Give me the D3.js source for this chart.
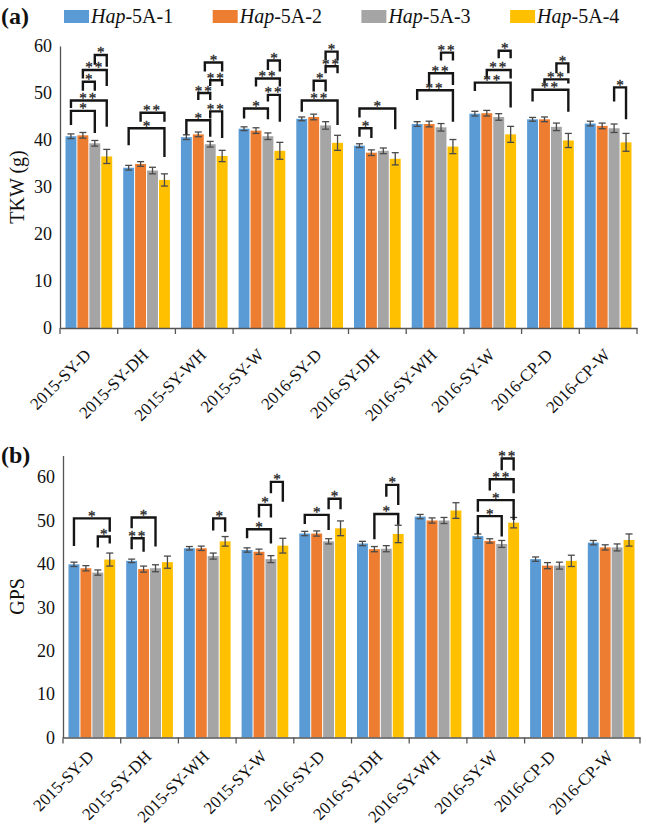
<!DOCTYPE html>
<html><head><meta charset="utf-8">
<script src="https://cdn.jsdelivr.net/npm/d3@7"></script>
<style>
body{margin:0;background:#fff}
svg{display:block}
text{font-family:"Liberation Serif","Times New Roman",Tinos,serif;fill:#111}
</style>
</head><body>
<svg id="chart" width="646" height="827"></svg>
<script>
// ---------- DATA ----------
const categories = ["2015-SY-D","2015-SY-DH","2015-SY-WH","2015-SY-W","2016-SY-D","2016-SY-DH","2016-SY-WH","2016-SY-W","2016-CP-D","2016-CP-W"];
const haplotypes = ["Hap-5A-1","Hap-5A-2","Hap-5A-3","Hap-5A-4"];
const colors = ["#5B9BD5","#ED7D31","#A5A5A5","#FFC000"];

// TKW (g) means and error bars
const tkwHap1 = [40.8,34.1,40.6,42.4,44.5,38.8,43.4,45.6,44.4,43.5];
const tkwHap2 = [41.0,34.9,41.2,42.0,44.9,37.3,43.4,45.7,44.4,43.0];
const tkwHap3 = [39.3,33.5,39.1,40.8,43.1,37.7,42.7,44.9,42.8,42.5];
const tkwHap4 = [36.5,31.5,36.6,37.7,39.4,36.0,38.6,41.2,39.9,39.5];
const tkwErr1 = [0.5,0.5,0.5,0.4,0.4,0.4,0.5,0.5,0.4,0.5];
const tkwErr2 = [0.6,0.5,0.5,0.6,0.6,0.6,0.6,0.6,0.5,0.6];
const tkwErr3 = [0.6,0.7,0.6,0.7,0.8,0.6,0.8,0.7,0.8,0.9];
const tkwErr4 = [1.5,1.3,1.2,1.8,1.6,1.3,1.5,1.7,1.5,1.9];

// GPS means and error bars
const gpsHap1 = [39.9,40.7,43.6,43.2,47.0,44.7,50.9,46.4,41.1,44.9];
const gpsHap2 = [39.0,38.8,43.6,42.8,47.0,43.4,50.0,45.3,39.6,43.8];
const gpsHap3 = [38.0,39.0,41.8,41.1,45.2,43.5,50.0,44.6,39.6,43.8];
const gpsHap4 = [41.0,40.4,45.2,44.2,48.2,46.9,52.3,49.5,40.7,45.5];
const gpsErr1 = [0.5,0.4,0.4,0.5,0.5,0.5,0.5,0.5,0.5,0.5];
const gpsErr2 = [0.6,0.7,0.5,0.6,0.6,0.6,0.6,0.5,0.7,0.6];
const gpsErr3 = [0.6,0.8,0.7,0.8,0.6,0.7,0.7,0.8,0.8,0.8];
const gpsErr4 = [1.5,1.4,1.1,1.7,1.7,2.0,1.8,1.2,1.3,1.4];

const tkwTicks = [0,10,20,30,40,50,60];
const gpsTicks = [0,10,20,30,40,50,60];

// significance brackets: [group, fromBar, toBar, topValue, leftLegEnd, rightLegEnd, label]
const tkwSig = [
  [0,0,2,46.2,43.2,41.5,"*"],[0,0,3,48.4,46.8,42.8,"**"],[0,1,2,52.4,50.5,50.5,"*"],[0,1,3,54.9,53.1,51.5,"**"],[0,2,3,58.1,56.0,55.6,"*"],
  [1,0,3,42.5,38.9,36.4,"*"],[1,1,3,45.8,43.9,43.9,"**"],
  [2,0,2,44.2,41.1,40.7,"*"],[2,2,3,46.1,44.6,40.4,"**"],[2,1,2,50.0,48.5,48.5,"**"],[2,2,3,52.7,51.5,51.5,"**"],[2,1.55,3,56.5,54.6,54.6,"*"],
  [3,0,2,46.7,44.6,44.4,"*"],[3,2,3,49.6,48.2,43.9,"**"],[3,1,3,53.1,51.4,51.4,"**"],[3,2,3,56.9,54.9,54.6,"*"],
  [4,0,3,48.4,46.0,43.2,"**"],[4,1,2,52.6,50.3,50.3,"*"],[4,2,3,55.7,54.2,54.2,"**"],[4,2,3,58.8,57.0,57.0,"*"],
  [5,0,1,42.5,40.7,40.4,"*"],[5,0,3,46.7,44.8,42.3,"*"],
  [6,0,3,50.6,48.5,43.9,"**"],[6,1,3,54.2,51.7,51.7,"**"],[6,2,3,58.6,56.9,56.9,"**"],
  [7,0,3,52.2,50.4,46.9,"**"],[7,1,3,54.9,53.1,53.1,"**"],[7,2,3,59.0,57.4,57.4,"*"],
  [8,0,3,50.7,48.2,46.0,"**"],[8,1,3,52.9,52.0,52.0,"**"],[8,2,3,56.3,54.2,54.2,"*"],
  [9,2,3,51.2,48.2,44.4,"*"]
];
const gpsSig = [
  [0,0,3,50.5,44.1,47.4,"*"],[0,2,3,46.3,43.8,44.7,"*"],
  [1,0,2,50.7,48.2,44.0,"*"],[1,0,1,45.9,43.4,42.8,"**"],
  [2,2,3,50.5,47.7,47.4,"*"],
  [3,0,2,48.0,45.9,44.7,"*"],[3,1,2,53.6,50.7,50.7,"*"],[3,2,3,58.9,56.3,54.3,"*"],
  [4,0,2,51.3,49.2,47.8,"*"],[4,2,3,55.0,52.6,52.6,"*"],
  [5,1,3,51.5,45.7,49.0,"*"],[5,2,3,58.2,55.5,53.6,"*"],
  [7,0,2,51.0,46.9,46.3,"*"],[7,0,3,54.7,52.0,50.1,"*"],[7,1,3,59.5,56.9,56.3,"**"],[7,2,3,64.3,61.6,61.5,"**"]
];

// ---------- DRAW ----------
const svg = d3.select("#chart");
const SERIF = '"Liberation Serif","Times New Roman",Tinos,serif';

function drawPanel(p){
  const g = svg.append("g");
  const x = d3.scaleBand().domain(categories).range([p.x0, p.x1]).paddingInner(0).paddingOuter(0);
  const sub = d3.scaleBand().domain([0,1,2,3]).range([5, x.bandwidth()-5]).paddingInner(0);
  const y = d3.scaleLinear().domain([0, p.yMax]).range([p.yBase, p.yTop]);
  const barX = (gi, bi) => x(categories[gi]) + sub(0) + (bi + 0.5) * sub.step();

  // bars
  p.series.forEach((vals, si) => {
    g.append("g").selectAll("rect").data(vals).join("rect")
      .attr("x", (d,i) => x(categories[i]) + sub(si) + 0.5)
      .attr("width", sub.bandwidth() - 1)
      .attr("y", d => y(d))
      .attr("height", d => y(0) - y(d))
      .attr("fill", colors[si]);
  });
  // error bars
  p.errs.forEach((errs, si) => {
    const vals = p.series[si];
    const eg = g.append("g").attr("stroke", "#4a4a4a").attr("stroke-width", 1.3).attr("fill","none");
    errs.forEach((e, i) => {
      const cx = barX(i, si);
      eg.append("line").attr("x1", cx).attr("x2", cx).attr("y1", y(vals[i]-e)).attr("y2", y(vals[i]+e));
      eg.append("line").attr("x1", cx-3.5).attr("x2", cx+3.5).attr("y1", y(vals[i]-e)).attr("y2", y(vals[i]-e));
      eg.append("line").attr("x1", cx-3.5).attr("x2", cx+3.5).attr("y1", y(vals[i]+e)).attr("y2", y(vals[i]+e));
    });
  });

  // y axis
  const ya = g.append("g").attr("transform", `translate(${p.x0},0)`)
    .call(d3.axisLeft(y).tickValues(p.ticks).tickSize(0).tickPadding(8).tickFormat(d3.format("d")));
  ya.attr("font-family", null);
  ya.select(".domain").attr("stroke", "#555").attr("stroke-width", 1.3);
  ya.selectAll("text").style("font-size", "18px").style("font-family", SERIF).attr("fill", "#111");

  // x axis
  const xa = g.append("g").attr("transform", `translate(0,${p.yBase})`)
    .call(d3.axisBottom(x).tickSize(0).tickFormat(""));
  xa.attr("font-family", null);
  xa.select(".domain").attr("stroke", "#555").attr("stroke-width", 1.5);
  const bounds = categories.map(c => x(c)).concat([p.x1]);
  xa.selectAll("line.bnd").data(bounds).join("line").attr("class","bnd")
    .attr("x1", d => d).attr("x2", d => d).attr("y1", 0).attr("y2", 6)
    .attr("stroke", "#555").attr("stroke-width", 1.3);
  xa.selectAll("text.cat").data(categories).join("text").attr("class","cat")
    .attr("transform", d => `translate(${x(d) + x.bandwidth()/2 + 3},${p.labelDy}) rotate(-45)`)
    .attr("text-anchor", "end")
    .style("font-size", "17px")
    .style("font-family", SERIF)
    .attr("fill", "#111")
    .text(d => d);

  // y label
  g.append("text")
    .attr("transform", `translate(${p.yLabelX},${(p.yBase + p.yTop)/2 + p.yLabelShift}) rotate(-90)`)
    .attr("text-anchor", "middle")
    .style("font-size", "20px")
    .text(p.yLabel);

  // significance brackets
  const bg = g.append("g");
  const sg = g.append("g");
  p.sig.forEach(s => {
    const [gi, a, b, top, la, rb, lab] = s;
    const xa1 = barX(gi, a), xb1 = barX(gi, b);
    bg.append("path")
      .attr("d", `M${xa1},${y(la)}V${y(top)}H${xb1}V${y(rb)}`)
      .attr("fill", "none").attr("stroke", "#151515").attr("stroke-width", 2.4)
      .attr("stroke-linejoin", "miter");
    sg.append("text")
      .attr("x", (xa1 + xb1) / 2)
      .attr("y", y(top) + 2.5)
      .attr("text-anchor", "middle")
      .style("font-size", "15px")
      .style("letter-spacing", lab.length > 1 ? "2px" : "0px")
      .attr("fill", "#333")
      .attr("stroke", "#333")
      .attr("stroke-width", 0.35)
      .text(lab);
  });
}

drawPanel({
  x0: 60, x1: 637, yBase: 328, yTop: 46, yMax: 60,
  series: [tkwHap1, tkwHap2, tkwHap3, tkwHap4],
  errs: [tkwErr1, tkwErr2, tkwErr3, tkwErr4],
  ticks: tkwTicks, sig: tkwSig, yLabel: "TKW (g)", yLabelX: 24, yLabelShift: 0, labelDy: 28
});
drawPanel({
  x0: 63, x1: 640, yBase: 737.5, yTop: 455.4, yMax: 65,
  series: [gpsHap1, gpsHap2, gpsHap3, gpsHap4],
  errs: [gpsErr1, gpsErr2, gpsErr3, gpsErr4],
  ticks: gpsTicks, sig: gpsSig, yLabel: "GPS", yLabelX: 24, yLabelShift: 0, labelDy: 20
});

// panel labels
svg.append("text").attr("x", 1).attr("y", 24).style("font-size", "24px").style("font-weight", "bold").text("(a)");
svg.append("text").attr("x", 1).attr("y", 463).style("font-size", "24px").style("font-weight", "bold").text("(b)");

// legend
const leg = svg.append("g");
haplotypes.forEach((h, i) => {
  const lx = 64 + i * 148.7;
  leg.append("rect").attr("x", lx).attr("y", 10).attr("width", 25).attr("height", 13).attr("fill", colors[i]);
  const t = leg.append("text").attr("x", lx + 27).attr("y", 23).style("font-size", "20px");
  const parts = h.split("-");
  t.append("tspan").style("font-style", "italic").text(parts[0]);
  t.append("tspan").text("-" + parts.slice(1).join("-"));
});
</script>
</body></html>
